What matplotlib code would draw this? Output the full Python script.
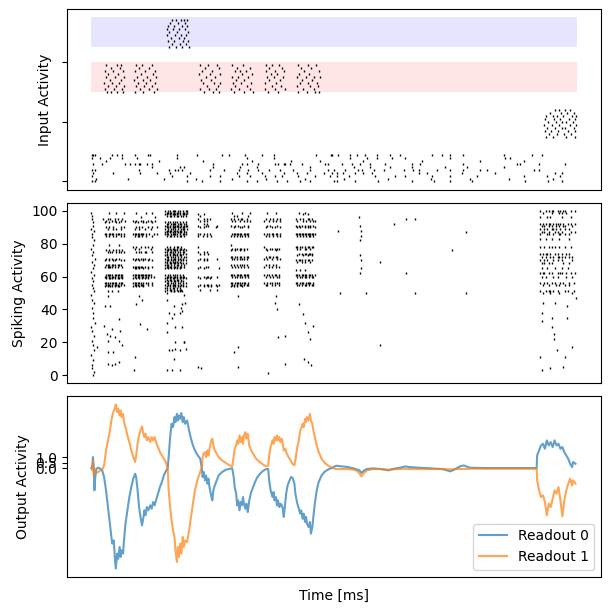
import numpy as np
import matplotlib
matplotlib.use("Agg")
import matplotlib.pyplot as plt

T_END = 1000

# ---- input raster (channels 0-9 background, 15-24 end cue, 30-39 red, 45-54 blue)
bg_spikes = [
    [1, 8, 196, 227, 265, 320, 341, 382, 402, 430, 450, 499, 505, 543, 591, 660, 705, 739, 784, 893, 941, 969],
    [10, 75, 150, 215, 290, 360, 440, 520, 610, 700, 780, 860, 950],
    [1, 166, 196, 245, 265, 303, 327, 358, 378, 392, 426, 461, 492, 505, 530, 584, 626, 646, 701, 739, 794, 890, 938, 966],
    [4, 45, 100, 135, 162, 203, 299, 320, 351, 396, 423, 444, 478, 495, 505, 519, 543, 560, 578, 674, 691, 763, 832, 955, 969],
    [1, 8, 97, 159, 172, 179, 186, 245, 272, 303, 323, 344, 365, 389, 416, 450, 488, 499, 523, 550, 557, 581, 602, 643,
     663, 674, 711, 739, 766, 801, 814, 911, 921],
    [124, 183, 190, 251, 306, 341, 450, 540, 574, 615, 660, 729, 773, 849],
    [4, 21, 69, 80, 90, 97, 100, 114, 124, 251, 310, 320, 344, 378, 385, 396, 399, 409, 433, 481, 488, 516, 536, 554,
     574, 605, 660, 677, 766, 876, 883, 921, 976],
    [30, 140, 230, 330, 410, 470, 560, 680, 800, 890],
    [1, 18, 38, 62, 93, 176, 320, 375, 533, 567, 588, 619, 646, 739, 852, 862],
    [1, 4, 8, 42, 52, 62, 90, 117, 121, 176, 217, 268, 284, 317, 351, 375, 463, 493, 495, 507, 533, 547, 564, 588, 615,
     636, 701, 722, 739, 766, 849, 907, 928],
]
cue_spikes = [  # channels 15..24
    [937, 951, 978, 997],
    [942, 959, 973, 988],
    [935, 946, 960, 981, 996],
    [938, 954, 969, 976, 994],
    [933, 948, 963, 985, 999],
    [940, 957, 970, 978, 992],
    [934, 952, 966, 983, 995],
    [936, 950, 958, 972, 990, 998],
    [945, 968, 980, 993],
    [955, 962, 975, 986],
]
red_spikes = [  # channels 30..39
    [31, 41, 53, 64, 90, 106, 128, 232, 250, 263, 294, 314, 332, 364, 385, 426, 443, 461, 469],
    [28, 46, 62, 100, 119, 134, 223, 242, 256, 288, 304, 326, 358, 377, 399, 435, 459],
    [33, 50, 67, 91, 109, 125, 238, 260, 296, 320, 372, 391, 424, 451, 466],
    [26, 43, 57, 96, 113, 131, 230, 252, 265, 292, 308, 329, 357, 380, 429, 446, 464],
    [38, 60, 88, 107, 121, 226, 247, 298, 315, 366, 388, 433, 455],
    [29, 48, 66, 94, 115, 133, 236, 255, 289, 302, 323, 362, 375, 394, 423, 441, 458, 470],
    [35, 55, 101, 127, 222, 244, 264, 310, 331, 369, 383, 427, 449],
    [27, 45, 64, 89, 110, 130, 228, 249, 295, 305, 318, 359, 378, 397, 437, 468],
    [40, 58, 98, 118, 233, 262, 300, 327, 365, 392, 431, 453],
    [30, 52, 61, 92, 104, 124, 224, 240, 258, 290, 312, 360, 371, 386, 425, 445, 462],
]
blue_spikes = [  # channels 45..54
    [159, 174, 187, 200],
    [165, 183, 195],
    [157, 171, 188, 198],
    [163, 180, 191],
    [156, 172, 184, 194],
    [160, 176, 199],
    [155, 168, 181, 193],
    [158, 170, 186, 196],
    [162, 178, 192],
    [166, 175, 185, 190, 197],
]

# ---- recurrent spikes: burst blocks, "neuron:pattern", one column every 3 ms
burst_starts = [24, 86, 152, 220, 287, 356, 421, 924]
burst_rows = [
    ["99:....|....|....|", "95:|..|.|..|.|..|.", "94:..|...|.|...|..|", "93:.|..|....|.|....",
     "90:..|.|..|....|.|.", "89:...|...|.|..|...", "86:.||.||||.||||.|.", "85:..|.|..|.|..|.|.",
     "79:....|......|....", "76:..|.|..|.|.|.|..", "75:...|.||..|.||.|.", "71:..|.|.|..|.|....",
     "70:.|..|..||...|.|.", "67:..|||.|||.|||...", "66:.|.||||.|.|..|..", "61:..|||||.||||||..",
     "60:.||.|.|||.|.||..", "59:..|.|||.|.||.|..", "56:.|||.|||||.|||..", "55:..|||.|.|||.|.|.",
     "54:.|.|.||.|.||....", "51:...|..|...|....."],
    ["99:..|......|...|..", "96:.....|.........|", "94:|.|..|.|..|.|..|.", "93:.|.|...|.|...|...",
     "90:..|.|.|...|..|..|", "89:.|..|...|...|....", "86:||||||||.|.|..|.|", "85:.|.||.|..|...|...",
     "78:|.|..|..|.|..|...", "77:.|..|.......|....", "75:..|.||..||...|...", "71:|.||.|.||..|.....",
     "70:.|..|..|..|..|...", "66:|||||||.|.|..|...", "65:.||.|..|..|......", "61:|||||||||||||....",
     "60:.|.||.||.||.|.|..", "59:|.|.|.|.|.|......", "56:||||||.|.||..|...", "55:.|||.|||..|..|...",
     "54:|.|.|..|........."],
    ["100:|.||.|||.||.|.||", "99:.||||.|.|||.||.|", "98:||.|.||||.|.|||.", "97:.|.||.|.||.||.|.",
     "93:|.||.|.||.|.|.|.", "92:.||.||||.|||.||.", "91:||.|.|.|||.|.|||", "90:.|||.|||.||.||..",
     "89:|.|.||.|.|.|||.|", "88:.||||.|||.||.|..", "87:||.|.|.|.|||.||.", "86:|||.|||||.|.|||.",
     "85:.|.||.|.|.||.|..", "78:.|.|..|.||.|....", "77:|.||.||.|.||.|..", "76:.||.|.|||.|.|.|.",
     "75:||.|||.|.||.||..", "74:.|.|.||.|.|.|.|.", "73:||.|.|.||.||....", "72:.||.||.|.|.|.||.",
     "71:|.|.|.||.||.|...", "70:.||.||.|.|.||.|.", "69:||.|.|.||.|.....", "68:.|.||.||.|.||.|.",
     "67:|||.|.|.||.|.|..", "66:.||||.|||.||.|..", "65:|.|.|.|.|.|.....", "61:|.||.|.||.|.|...",
     "60:.||||.|||.||||..", "59:||.|.||.|.|.|.|.", "58:.|.||.|.||.|....", "57:|.|.|.||.|.||...",
     "56:.||.||.|.||.|.|.", "55:|.||.|||.|.||...", "54:.|.|.|.|.||.|.|.", "53:||.|.||.|.|.....",
     "52:.|.||.|.|.||....", "51:|...|.|..|......"],
    ["98:|...|..........", "97:.|.............", "95:|...|.|.|......", "94:.|..|.|........",
     "92:....|.|........", "91:|....|.|.....|.", "90:.|..|.......|..", "86:||..|.|.|......",
     "85:|..|..|..|.....", "78:|..............", "75:|...|.|........", "74:.|..|..|.......",
     "71:.|..|.|......|.", "70:|...|.|........", "66:.|...|.|.......", "65:|...|.........|",
     "60:|...|.||.|...|.", "59:.|...|..|......", "55:.|..|.||.|..|.|", "54:|...|..|.|...|.",
     "52:.|......|....|."],
    ["99:.|......|....|", "97:..|.|.......|.", "95:|.|..|.||..|..", "94:.|.|..|..|.|.|",
     "91:|..|.|...|..|.", "90:..|...|.|...|.", "86:.|||||||.||||..", "85:|.|.|.|.|.|.|.",
     "79:|.............", "77:.|.||.||.|.|..", "76:|..|..|..|....", "72:||.||.||.|.||.",
     "71:.||.|.|.||.|..", "67:|.|.|.|.||.|..", "66:.|.|.|.|.|..|.", "61:|||.||||.||||.",
     "60:.|.||.|.|.|.|.", "56:||.||||.|||.|.", "55:.||.|.||.|.||.", "54:|.|.|...|....."],
    ["99:..|.....|.....", "95:.|..|.|..|.|..", "94:|..|..|.|..|..", "91:..|.|....|....",
     "90:.|...|.|...|..", "86:|.||.||.||.|..", "85:.|.|..|..|.|..", "78:|.............",
     "77:.|..||.|.||...", "76:..|.....|.....", "72:.|.||.|.||....", "71:|.|..|...|.|..",
     "67:.|.|..|.|.....", "66:|..|.|..|.|...", "61:|.||.|.||.|...", "60:.|..|.|..||...",
     "56:|.|.||.|.||...", "55:.||..|.|..|..."],
    ["99:..|...|.........", "98:.....|..|.......", "95:|..|.|..||.|....", "94:.|...|.|..|.||..",
     "91:|.|.|.|.|.|.|...", "90:.|.|..|.|.|..|..", "86:||||||||||||||..", "85:.|.|.|.|.||.|...",
     "78:||.||.|.||.||...", "77:.|.|..||..|.....", "74:..|.|.||.|||....", "73:.|...|..|..|....",
     "70:|.|||.|.||.|....", "69:.|..|.|...|.....", "64:|..|..|.........", "61:|||.||||.|||.|..",
     "60:.|.||.||.|.||...", "56:||.|||.||||.|...", "55:.||.|.||.|.||..."],
    ["100:|...|.|.||..|.|.||...|..|.", "99:..|.....|....|.|..|......", "96:|....|.|.......|.....|....",
     "92:|.|.|.||.|.||.|.|..|.|..|.", "91:.|.|..|.|..|.|..||....|...", "89:|..|.|..||.|..|..|..|.....",
     "87:.|.|..|...|.|..|.....|..|.", "86:|....||..|...||..|..|.....", "83:|...|...|....|......|.....",
     "78:|..|..|.|.|..|...|...|....", "74:|.|.||.|..|.|..|..|.|.....", "72:.|..|..|.|..||.|.|..|.|...",
     "70:|..|.|...|..|..|......|...", "68:.|.|..|.|.......|...|.....", "65:.|...|....|....|...|......",
     "62:|.||..|.|...|.||..|..|..|.", "60:.|..|....|..|.....|...|...", "56:|..|.|..|.|...|.|...|..|..",
     "55:..|...|....|.|...|..|.....", "51:|...|.||.|..|....|.|...|..", "50:..|....|.....|........|..."],
]

# start-up transient
init_t = [0, 2, 1, 4, 3, 0, 5, 2, 1, 6, 3, 0, 4, 2, 7, 1, 5, 3, 0, 6, 2, 4, 1, 3, 5, 0, 2, 6, 1, 4,
          3, 7, 0, 2, 5, 1, 3, 6, 0, 4, 2, 1, 5, 3]
init_n = [99, 97, 95, 93, 91, 89, 88, 86, 84, 82, 79, 77, 75, 73, 71, 69, 67, 65, 63, 61, 59, 57, 55, 53, 51, 49,
          46, 44, 41, 38, 35, 32, 29, 27, 24, 21, 18, 15, 12, 9, 6, 4, 2, 0]
# isolated spikes
sparse_t = [35, 27, 38, 56, 25, 42, 32, 38, 49, 59, 35, 56, 62, 11, 35, 45, 35, 42, 49, 56,
            97, 104, 91, 100, 114, 89, 87,
            155, 169, 183, 155, 169, 186, 159, 169, 183, 166, 155, 172, 186, 155, 159, 166, 172, 183, 169, 155, 166,
            183, 172, 190, 186, 190, 193, 184, 186, 191, 195,
            220, 226, 301, 301, 293, 302, 363, 381, 379, 383, 385, 399, 399,
            428, 435, 440, 446, 451, 438, 445, 452, 457,
            507, 511, 551, 553, 555, 556, 554, 554, 555, 556, 554, 565, 594, 594, 623, 648, 648, 666, 666, 742, 771, 771,
            931, 955, 979, 928, 948, 979, 928, 948, 953, 953, 989, 958, 924, 976, 972, 928, 945, 998]
sparse_n = [48, 42, 42, 34, 30, 28, 25, 24, 23, 27, 21, 21, 18, 17, 14, 14, 7, 6, 7, 8,
            48, 46, 43, 31, 28, 11, 3,
            50, 51, 51, 46, 42, 43, 38, 37, 38, 35, 32, 29, 29, 26, 15, 15, 16, 15, 10, 3, 3,
            3, 20, 20, 51, 49, 44, 41, 39, 20, 16,
            5, 4, 48, 17, 14, 5, 1, 48, 44, 40, 23, 24, 7,
            43, 37, 32, 26, 22, 10, 8, 6, 30,
            88, 50, 96, 91, 88, 85, 82, 73, 70, 65, 62, 50, 69, 18, 92, 95, 62, 95, 50, 76, 87, 50,
            44, 44, 42, 38, 35, 35, 33, 29, 25, 22, 17, 15, 11, 11, 5, 3, 4, 47]

# ---- readouts
readout_t = [0, 2, 3, 5, 6, 7, 10, 14, 18, 22,
             26, 30, 34, 38, 41, 43, 46, 48, 50, 53,
             55, 58, 60, 62, 65, 67, 70, 74, 78, 82,
             86, 90, 92, 95, 98, 101, 104, 106, 109, 111,
             114, 117, 121, 124, 127, 130, 133, 137, 141, 145,
             149, 153, 157, 159, 162, 165, 168, 171, 173, 176,
             178, 180, 183, 185, 188, 190, 193, 197, 201, 205,
             209, 213, 219, 224, 227, 229, 231, 234, 236, 239,
             241, 243, 247, 249, 251, 254, 258, 262, 269, 277,
             285, 290, 293, 295, 298, 300, 302, 305, 307, 310,
             312, 314, 317, 319, 322, 325, 329, 333, 337, 341,
             347, 353, 360, 364, 366, 369, 373, 375, 377, 380,
             382, 384, 387, 389, 392, 394, 396, 399, 401, 404,
             408, 411, 414, 418, 420, 424, 427, 430, 432, 435,
             437, 440, 442, 444, 447, 450, 452, 455, 457, 460,
             464, 468, 474, 481, 488, 496, 504, 516, 528, 540,
             548, 552, 556, 560, 567, 580, 596, 612, 620, 635,
             647, 655, 675, 699, 723, 739, 747, 759, 767, 779,
             811, 851, 891, 917, 918, 922, 926, 930, 934, 938,
             942, 946, 950, 954, 958, 962, 966, 970, 974, 978,
             982, 986, 990, 992, 997]
readout0 = [0, 0.24, 1.0, -0.21, -2.03, -1.12, -0.06, 0.03, -0.06, -0.21,
            -0.82, -2.03, -3.55, -5.06, -6.27, -6.88, -6.58, -8.09, -9.15, -7.79,
            -8.24, -7.18, -8.09, -7.48, -7.79, -6.58, -5.06, -3.85, -2.64, -1.73,
            -0.97, -0.52, -0.82, -2.03, -3.55, -4.45, -5.21, -4.76, -3.85, -4.30,
            -3.55, -3.85, -3.39, -3.70, -3.09, -3.39, -2.94, -2.33, -1.73, -1.27,
            -0.67, -0.30, 0, 1.0, 2.82, 4.03, 3.73, 4.64, 4.18, 4.94,
            4.33, 4.79, 4.48, 5.0, 4.18, 4.64, 4.03, 4.33, 3.42, 2.67,
            2.06, 1.61, 1.15, 0.85, 0.09, -0.82, -0.36, -1.12, -0.67, -1.42,
            -0.97, -1.73, -2.64, -2.94, -2.03, -1.58, -1.12, -0.67, -0.36, -0.15,
            -0.06, -0.03, -0.82, -1.73, -2.33, -3.39, -2.94, -3.85, -3.09, -3.39,
            -2.64, -3.24, -3.70, -3.24, -4.0, -2.94, -2.18, -1.73, -1.27, -0.88,
            -0.52, -0.27, -0.09, -0.09, -1.12, -2.03, -2.64, -2.18, -2.94, -2.64,
            -3.39, -2.94, -3.55, -3.24, -3.39, -3.70, -4.45, -3.24, -2.33, -1.58,
            -1.12, -0.82, -0.88, -1.42, -2.33, -3.24, -3.70, -4.15, -3.85, -4.61,
            -4.15, -4.91, -4.45, -5.06, -5.36, -4.91, -5.97, -5.36, -4.45, -3.24,
            -2.03, -1.27, -0.67, -0.30, -0.12, 0.03, 0.21, 0.15, 0.09, -0.03,
            -0.15, -0.21, -0.45, -0.27, -0.09, -0.03, -0.09, -0.21, -0.09, 0.03,
            0.15, 0.09, 0.03, -0.03, -0.09, -0.30, -0.15, 0.15, 0.24, 0.03,
            0, 0, 0, 0, 1.15, 1.61, 2.06, 2.21, 1.76, 2.52,
            2.06, 2.36, 1.91, 2.52, 2.06, 2.21, 1.76, 1.91, 1.45, 1.15,
            0.85, 0.39, 0.09, 0.55, 0.39]
readout1 = [0, -0.21, 0.70, -0.67, -0.52, -0.36, -0.45, -0.36, -0.21, -0.15,
            0.24, 1.61, 2.52, 3.42, 4.33, 4.79, 5.24, 5.39, 5.79, 5.09,
            5.39, 4.79, 5.24, 4.64, 4.94, 4.18, 3.73, 2.97, 2.36, 1.61,
            1.0, 0.55, 1.15, 2.21, 2.97, 3.42, 3.79, 3.27, 2.82, 3.12,
            2.52, 2.82, 2.36, 2.82, 2.52, 2.82, 2.36, 1.91, 1.45, 1.15,
            0.85, 0.55, 0, -2.03, -3.55, -4.76, -5.67, -6.27, -7.48, -8.55,
            -7.18, -8.09, -6.88, -7.79, -6.27, -7.18, -6.58, -6.73, -5.67, -4.45,
            -3.24, -2.03, -0.97, -0.36, 0.03, 1.0, 1.30, 1.45, 1.0, 1.61,
            1.15, 1.76, 2.52, 2.67, 2.06, 1.61, 1.30, 1.0, 0.70, 0.45,
            0.24, 0.15, 1.15, 1.76, 2.06, 2.52, 2.21, 2.97, 2.36, 2.82,
            2.21, 2.97, 3.27, 2.67, 3.12, 2.06, 1.61, 1.30, 1.0, 0.76,
            0.55, 0.33, 0.15, 0.21, 1.15, 1.91, 2.52, 2.21, 2.82, 2.52,
            2.97, 2.52, 2.82, 2.36, 2.67, 2.21, 1.61, 1.76, 1.45, 1.15,
            0.85, 0.64, 0.39, 0.24, 0.70, 1.91, 2.52, 3.42, 3.58, 4.03,
            3.73, 4.48, 4.18, 4.64, 4.33, 4.94, 4.33, 4.03, 3.42, 2.82,
            2.06, 1.45, 0.85, 0.45, 0.21, 0, -0.09, -0.09, -0.09, -0.15,
            -0.27, -0.52, -0.76, -0.52, -0.21, -0.09, -0.09, -0.15, -0.12, -0.09,
            -0.06, -0.09, -0.09, -0.09, -0.09, -0.12, -0.09, -0.09, -0.09, -0.06,
            -0.06, -0.06, -0.06, -0.06, -1.12, -2.03, -2.64, -2.48, -3.09, -4.30,
            -3.24, -3.55, -2.79, -2.03, -2.33, -1.73, -2.94, -4.39, -2.94, -2.03,
            -1.42, -0.97, -1.58, -1.12, -1.42]


def burst_spikes(t0, rows, dt=3):
    ts, ns = [], []
    for row in rows:
        n, pat = row.split(":")
        for i, ch in enumerate(pat):
            if ch == "|" and t0 + i * dt <= T_END:
                ts.append(t0 + i * dt)
                ns.append(int(n))
    return ts, ns


def channel_spikes(groups, first):
    ts, ns = [], []
    for k, times in enumerate(groups):
        ts += times
        ns += [first + k] * len(times)
    return ts, ns


fig, axes = plt.subplots(3, 1, figsize=(6.11, 6.11), dpi=100, sharex=True)
fig.subplots_adjust(left=0.11, right=0.984, bottom=0.056, top=0.985, hspace=0.072)
mk = dict(marker="|", ls="none", color="k", ms=1.5, mew=1.0)

# input activity
ax = axes[0]
ax.fill_between([0, T_END], 30, 40, color="red", alpha=0.1, lw=0)
ax.fill_between([0, T_END], 45, 55, color="blue", alpha=0.1, lw=0)
for groups, first in [(bg_spikes, 0), (cue_spikes, 15), (red_spikes, 30), (blue_spikes, 45)]:
    ts, ns = channel_spikes(groups, first)
    ax.plot(ts, ns, **mk)
ax.set_yticks([0, 20, 40])
ax.set_yticklabels([])
ax.set_ylabel("Input Activity")

# spiking activity
ax = axes[1]
all_t, all_n = list(init_t) + list(sparse_t), list(init_n) + list(sparse_n)
for t0, rows in zip(burst_starts, burst_rows):
    ts, ns = burst_spikes(t0, rows)
    all_t += ts
    all_n += ns
ax.plot(all_t, all_n, **mk)
ax.set_ylim(-5, 105)
ax.set_yticks([0, 20, 40, 60, 80, 100])
ax.set_ylabel("Spiking Activity")

# output activity
ax = axes[2]
ax.plot(readout_t, readout0, color="C0", alpha=0.7, label="Readout 0")
ax.plot(readout_t, readout1, color="C1", alpha=0.7, label="Readout 1")
ax.set_yticks([0, 0.5, 1.0])
ax.set_ylabel("Output Activity")
ax.set_xlabel("Time [ms]", labelpad=9)
ax.legend(loc="lower right")

ax.set_xlim(-50, 1050)
ax.set_xticks([])

fig.savefig("out.png", dpi=100)
